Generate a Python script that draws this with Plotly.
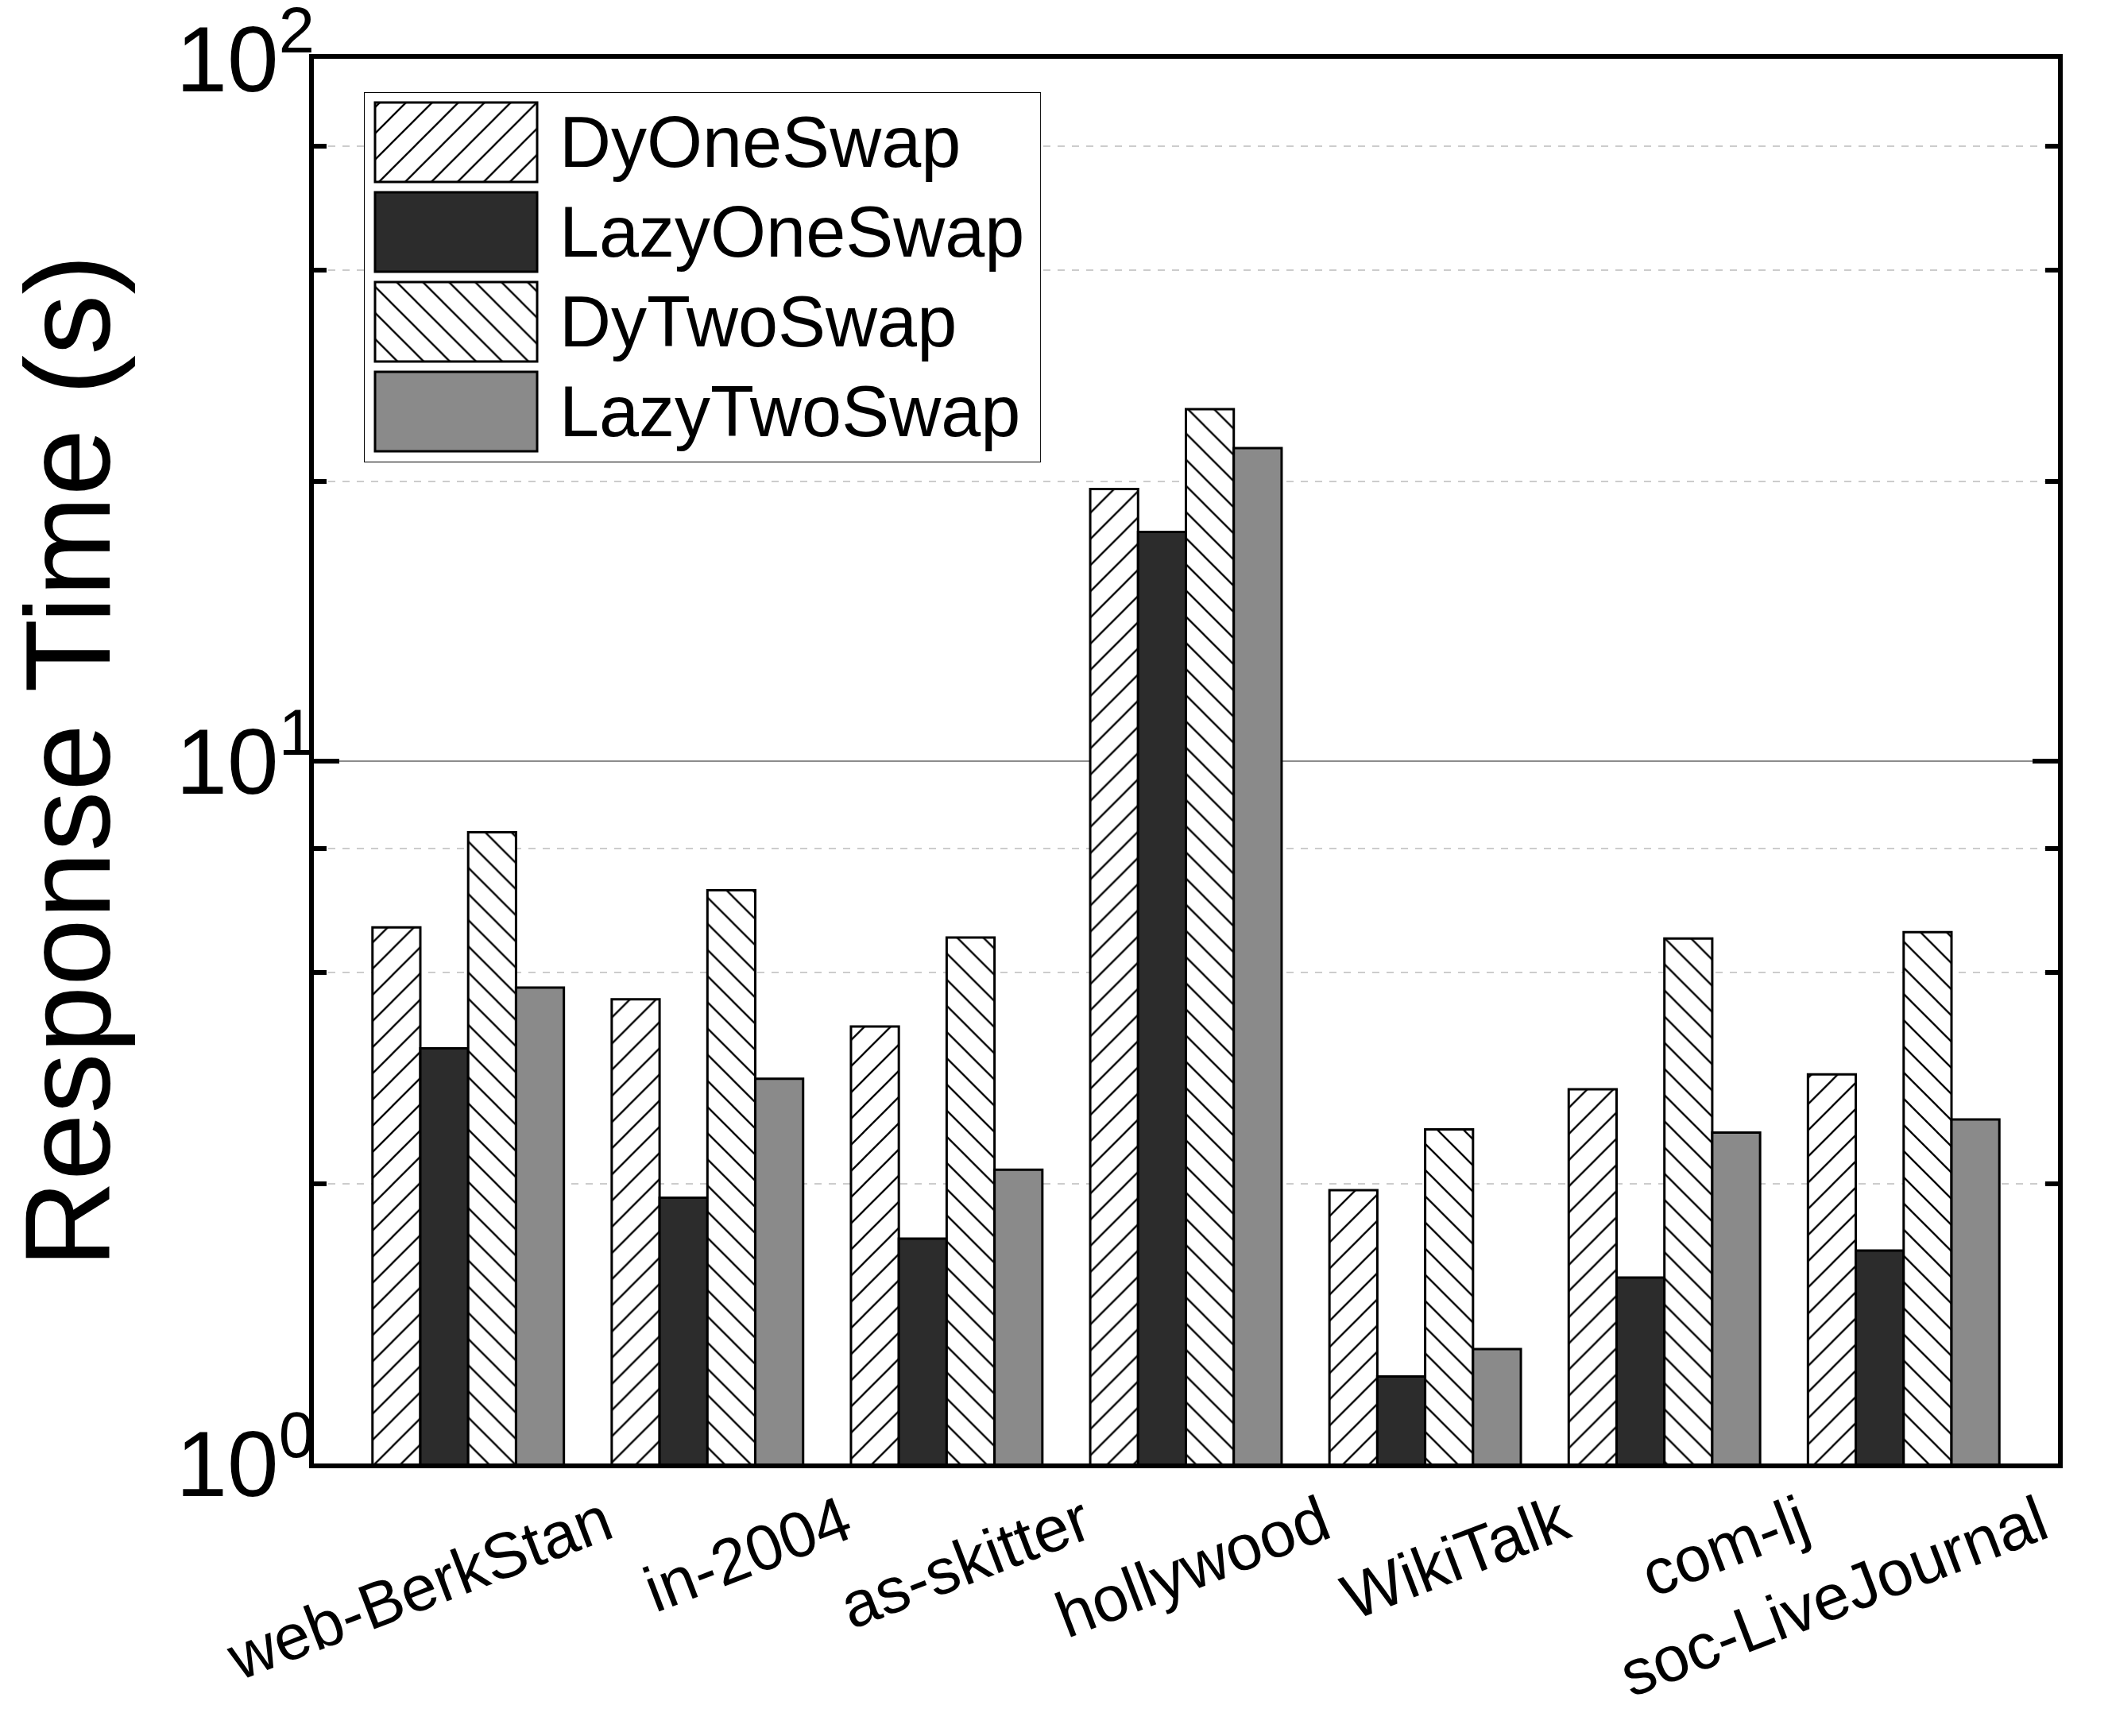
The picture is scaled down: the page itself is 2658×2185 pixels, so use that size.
import plotly.graph_objects as go

# ---------------- data ----------------
categories = ["web-BerkStan", "in-2004", "as-skitter", "hollywood",
              "WikiTalk", "com-lj", "soc-LiveJournal"]
series_names = ["DyOneSwap", "LazyOneSwap", "DyTwoSwap", "LazyTwoSwap"]
dy_one_swap = [5.80, 4.58, 4.19, 24.4, 2.45, 3.41, 3.58]
lazy_one_swap = [3.90, 2.39, 2.09, 21.2, 1.33, 1.84, 2.01]
dy_two_swap = [7.92, 6.55, 5.61, 31.7, 2.99, 5.59, 5.71]
lazy_two_swap = [4.76, 3.53, 2.62, 27.9, 1.455, 2.96, 3.09]
y_tick_values = [1, 10, 100]
y_tick_labels = ["10<sup>0</sup>", "10<sup>1</sup>", "10<sup>2</sup>"]
y_minor_values = [2.5, 5, 7.5, 25, 50, 75]
y_title = "Response Time (s)"

series_values = [dy_one_swap, lazy_one_swap, dy_two_swap, lazy_two_swap]

# ---------------- styles ----------------
FONT = "Liberation Sans, Arial, Helvetica, sans-serif"
hatch = dict(fgcolor="black", bgcolor="white", size=23.3, solidity=0.1)
styles = [
    dict(color="white", pattern=dict(shape="/", **hatch)),
    dict(color="#2c2c2c"),
    dict(color="white", pattern=dict(shape="\\", **hatch)),
    dict(color="#8a8a8a"),
]
bar_line = dict(color="black", width=3)

fig = go.Figure()

for name, vals, st in zip(series_names, series_values, styles):
    fig.add_trace(go.Bar(
        x=categories, y=vals, name=name,
        marker=dict(line=bar_line, **st),
        showlegend=False,
    ))

# ---------------- custom legend (inset axes) ----------------
leg_x_range = [-0.0686, 4.108]      # swatch spans 0..1
leg_y_range = [3.566, -0.5575]      # rows 0..3, reversed
for i, (name, st) in enumerate(zip(series_names, styles)):
    fig.add_trace(go.Bar(
        x=[1], y=[i], base=0, orientation="h",
        width=0.885, offset=-0.4425,
        marker=dict(line=bar_line, **st),
        xaxis="x2", yaxis="y2", showlegend=False, hoverinfo="skip",
    ))
    fig.add_annotation(
        xref="x2", yref="y2", x=1, y=i, text=name,
        xanchor="left", yanchor="middle", xshift=26, showarrow=False,
        font=dict(family=FONT, size=90, color="black"),
    )

fig.add_shape(
    type="rect", xref="x2", yref="y2",
    x0=leg_x_range[0], x1=leg_x_range[1],
    y0=leg_y_range[1], y1=leg_y_range[0],
    line=dict(color="black", width=2), fillcolor="white", layer="below",
)

fig.update_layout(
    template="none",
    width=2658, height=2185,
    margin=dict(l=395, r=68, t=74, b=343, pad=0),
    paper_bgcolor="white", plot_bgcolor="white",
    font=dict(family=FONT, color="black"),
    barmode="group", bargap=0.2, bargroupgap=0,
    showlegend=False,
    xaxis=dict(
        type="category", range=[-0.645, 6.645],
        showline=True, linewidth=6, linecolor="black", mirror=True,
        ticks="", showgrid=False, zeroline=False,
        tickangle=-21, tickfont=dict(family=FONT, size=81, color="black"),
        ticklabelshift=172, ticklabelstandoff=-9,
        automargin=False,
    ),
    yaxis=dict(
        type="log", range=[0, 2],
        tickvals=y_tick_values, ticktext=y_tick_labels,
        ticks="inside", ticklen=32, tickwidth=6, tickcolor="black",
        showline=True, linewidth=6, linecolor="black", mirror="ticks",
        showgrid=True, gridcolor="#8c8c8c", gridwidth=2, zeroline=False,
        minor=dict(tickvals=y_minor_values, ticks="inside", ticklen=16,
                   tickwidth=6, tickcolor="black", showgrid=True,
                   gridcolor="#cccccc", gridwidth=2, griddash="dash"),
        tickfont=dict(family=FONT, size=116, color="black"),
        ticklabelstandoff=-30, ticklabeloverflow="allow",
        title=dict(text=y_title, font=dict(family=FONT, size=152, color="black"),
                   standoff=161),
        automargin=False,
    ),
    xaxis2=dict(domain=[0.0287, 0.4169], range=leg_x_range, anchor="y2",
                visible=False, fixedrange=True),
    yaxis2=dict(domain=[0.7127, 0.9762], range=leg_y_range, anchor="x2",
                visible=False, fixedrange=True),
)

fig.write_html(
    "out.html",
    config={"displayModeBar": False},
    post_script="document.body.style.margin='0px';"
                "document.documentElement.style.overflow='hidden';",
)
